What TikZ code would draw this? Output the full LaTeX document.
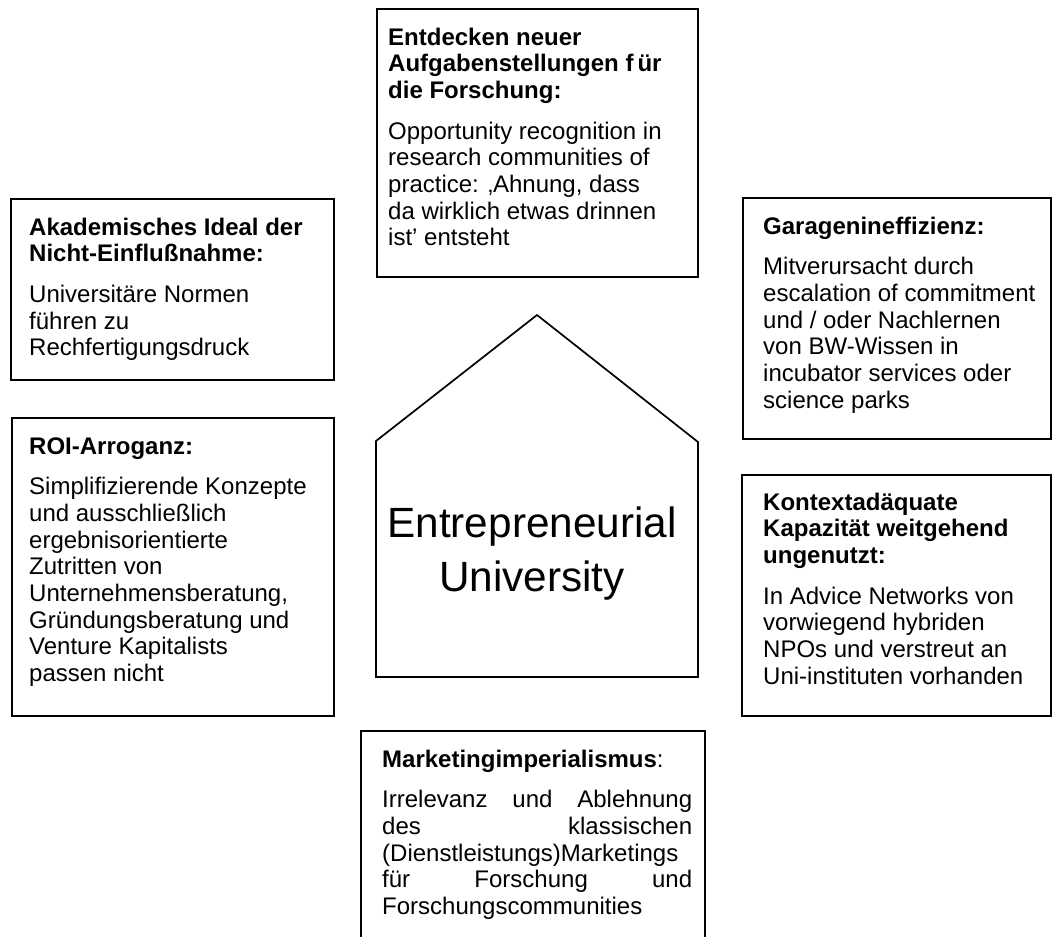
\documentclass[tikz,border=0pt]{standalone}
\usepackage{fontspec}
\setmainfont{Liberation Sans}
\usetikzlibrary{calc}

% card text: one parbox whose baseline is the first line
\newcommand\cardtext[1]{\parbox[t]{420pt}{\raggedright\fontsize{24}{26.7}\selectfont #1}}
\newcommand\cardhead[1]{{\bfseries #1}}

\tikzset{
  panel/.style={draw, line width=1.7pt, anchor=north west, inner sep=0pt},
  cardbody/.style={anchor=base west, inner sep=0pt},
}

\begin{document}
\begin{tikzpicture}[x=1pt, y=-1pt]
  \useasboundingbox[fill=white] (0,0) rectangle (1053,937);

  % frames
  \node[panel, minimum width=321pt, minimum height=268pt] (fb) at (376,8) {};
  \node[panel, minimum width=323pt, minimum height=181pt] (fa) at (10,198) {};
  \node[panel, minimum width=322pt, minimum height=298pt] (fr) at (11,417) {};
  \node[panel, minimum width=308pt, minimum height=241pt] (fg) at (742,197) {};
  \node[panel, minimum width=309pt, minimum height=241pt] (fk) at (741,474) {};
  \node[panel, minimum width=344pt, minimum height=240pt] (fm) at (360,730) {};

  % card texts
  \node[cardbody] (tb) at ($(fb.north west)+(12,37)$) {\cardtext{%
    \cardhead{Entdecken neuer\\Aufgabenstellungen f\,ür\\die Forschung:}\\[14pt]
    Opportunity recognition in\\research communities of\\practice: ‚Ahnung, dass\\da wirklich etwas drinnen\\ist’ entsteht}};

  \node[cardbody] (ta) at ($(fa.north west)+(19,37)$) {\cardtext{%
    \cardhead{Akademisches Ideal der\\Nicht-Einflußnahme:}\\[14pt]
    Universitäre Normen\\führen zu\\Rechfertigungsdruck}};

  \node[cardbody] (tr) at ($(fr.north west)+(18,37)$) {\cardtext{%
    \cardhead{ROI-Arroganz:}\\[14pt]
    Simplifizierende Konzepte\\und ausschließlich\\ergebnisorientierte\\Zutritten von\\Unternehmensberatung,\\Gründungsberatung und\\Venture Kapitalists\\passen nicht}};

  \node[cardbody] (tg) at ($(fg.north west)+(21,37)$) {\cardtext{%
    \cardhead{Garagenineffizienz:}\\[14pt]
    Mitverursacht durch\\escalation of commitment\\und / oder Nachlernen\\von BW-Wissen in\\incubator services oder\\science parks}};

  \node[cardbody] (tk) at ($(fk.north west)+(22,36)$) {\cardtext{%
    \cardhead{Kontextadäquate\\Kapazität weitgehend\\ungenutzt:}\\[14pt]
    In Advice Networks von\\vorwiegend hybriden\\NPOs und verstreut an\\Uni-instituten vorhanden}};

  \node[cardbody] (tm) at ($(fm.north west)+(22,37)$) {\cardtext{%
    \cardhead{Marketingimperialismus}:\\[14pt]
    \makebox[310pt][s]{Irrelevanz und Ablehnung}\\
    \makebox[310pt][s]{des\hfill klassischen}\\
    (Dienstleistungs)Marketings\\
    \makebox[310pt][s]{für\hfill Forschung\hfill und}\\
    Forschungscommunities}};

  % house outline
  \coordinate (hbl) at (376,677);
  \coordinate (hl) at (376,441);
  \coordinate (hapex) at (537,315);
  \coordinate (hr) at (698,442);
  \coordinate (hbr) at (698,677);
  \draw[line width=1.7pt, line join=miter] (hbl) -- (hl) -- (hapex) -- (hr) -- (hbr) -- cycle;

  \node[align=center, inner sep=0pt, font=\fontsize{42.3}{54}\selectfont] (house) at (532,554)
    {Entrepreneurial\\University};
\end{tikzpicture}
\end{document}
